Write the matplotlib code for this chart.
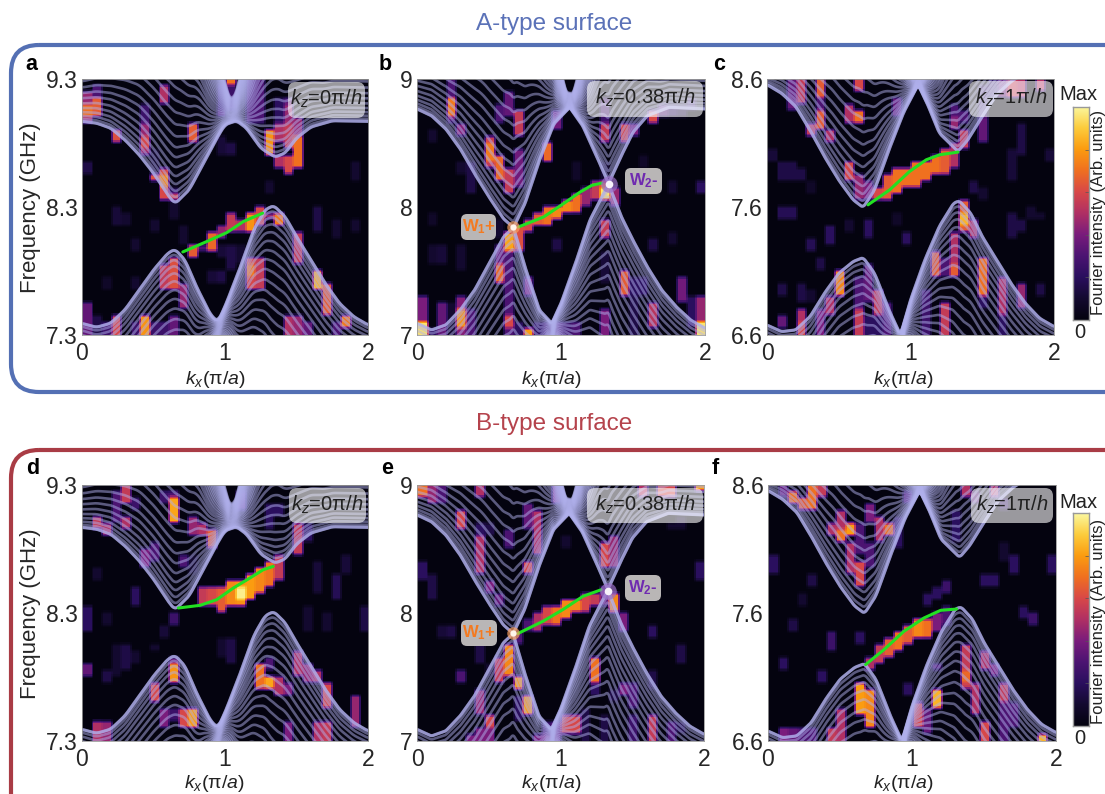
import numpy as np
import matplotlib
matplotlib.use("Agg")
import matplotlib.pyplot as plt
from matplotlib.colors import LinearSegmentedColormap
from matplotlib.patches import FancyBboxPatch

plt.rcParams['font.family'] = ['Liberation Sans', 'DejaVu Sans']
plt.rcParams['mathtext.fontset'] = 'custom'
plt.rcParams['mathtext.rm'] = 'Liberation Sans'
plt.rcParams['mathtext.it'] = 'Liberation Sans:italic'
plt.rcParams['mathtext.bf'] = 'Liberation Sans:bold'

# ---- frequency ranges, tick labels
F0 = {'a': 7.3, 'b': 7.0, 'c': 6.6, 'd': 7.3, 'e': 7.0, 'f': 6.6}
YTICKS = {'a': [7.3, 8.3, 9.3], 'b': [7, 8, 9], 'c': [6.6, 7.6, 8.6],
          'd': [7.3, 8.3, 9.3], 'e': [7, 8, 9], 'f': [6.6, 7.6, 8.6]}
XTICKS = [0, 1, 2]
KZ_TEXT = {'a': '0', 'b': '0.38', 'c': '1', 'd': '0', 'e': '0.38', 'f': '1'}
FAMILY = {'a': 0, 'd': 0, 'b': 1, 'e': 1, 'c': 2, 'f': 2}

# ---- band edges, GHz above the lower axis limit
U_K = [[0, .1, .2, .3, .4, .5, .6, .65, .75, .85, .95, 1.0, 1.08, 1.15, 1.25, 1.35, 1.42, 1.5, 1.6, 1.75, 2],
       [0, .1, .2, .3, .4, .5, .6, .67, .75, .85, .95, 1.06, 1.15, 1.25, 1.33, 1.42, 1.5, 1.6, 1.75, 2],
       [0, .1, .2, .3, .4, .5, .6, .67, .75, .85, .95, 1.053, 1.12, 1.2, 1.33, 1.4, 1.5, 1.6, 1.7, 1.8, 2]]
U_EDGE = [[1.669, 1.656, 1.617, 1.525, 1.408, 1.265, 1.095, 1.025, 1.134, 1.343, 1.552, 1.643, 1.674, 1.617, 1.46, 1.39, 1.421, 1.538, 1.625, 1.674, 1.669],
          [1.766, 1.714, 1.61, 1.455, 1.26, 1.078, .909, .839, 1.026, 1.364, 1.649, 1.779, 1.636, 1.39, 1.182, 1.403, 1.584, 1.714, 1.779, 1.766],
          [1.956, 1.89, 1.786, 1.6, 1.395, 1.21, 1.056, .996, 1.134, 1.447, 1.734, 1.956, 1.8, 1.578, 1.434, 1.525, 1.708, 1.877, 1.98, 2.05, 2.06]]
L_K = [[0, .1, .2, .3, .4, .5, .6, .65, .72, .8, .9, .95, 1.0, 1.1, 1.2, 1.28, 1.34, 1.42, 1.5, 1.6, 1.7, 1.8, 1.9, 2],
       [0, .1, .2, .3, .4, .5, .6, .67, .75, .85, .936, 1.0, 1.1, 1.2, 1.33, 1.42, 1.5, 1.6, 1.7, 1.8, 1.9, 2],
       [0, .1, .2, .3, .4, .5, .6, .67, .75, .85, .93, 1.0, 1.1, 1.2, 1.3, 1.34, 1.42, 1.5, 1.6, 1.7, 1.8, 1.9, 2]]
L_EDGE = [[.091, .06, .091, .196, .352, .508, .639, .67, .587, .378, .156, .104, .222, .508, .821, .978, 1.012, .926, .769, .587, .404, .248, .143, .078],
          [.091, .039, .078, .195, .351, .558, .766, .839, .532, .195, .091, .247, .558, .896, 1.182, .922, .74, .532, .351, .221, .117, .052],
          [.078, .026, .039, .143, .326, .482, .574, .605, .482, .196, 0, .274, .587, .847, 1.03, 1.048, .952, .769, .587, .404, .248, .13, .065]]
# ---- spacing of the nested curves, GHz per step
U_GAP_K = [[0, .2, .4, .65, .8, .9, .95, 1.0, 1.05, 1.1, 1.15, 1.2, 1.25, 1.35, 1.5, 1.7, 2],
           [0, .2, .45, .67, .8, .9, .96, 1.01, 1.06, 1.11, 1.16, 1.21, 1.27, 1.33, 1.5, 1.7, 2],
           [0, .2, .45, .67, .8, .9, .96, 1.01, 1.053, 1.1, 1.15, 1.2, 1.33, 1.6, 2]]
U_GAP = [[.04, .05, .07, .08, .055, .025, .015, .007, .003, .007, .015, .03, .05, .07, .05, .04, .04],
         [.04, .05, .08, .09, .06, .03, .015, .006, .001, .006, .015, .03, .06, .08, .06, .04, .04],
         [.03, .05, .08, .09, .06, .03, .015, .005, .0003, .005, .015, .03, .07, .05, .04]]
L_GAP_K = [[0, .3, .65, .8, .88, .95, 1.02, 1.1, 1.34, 1.6, 2],
           [0, .3, .67, .8, .88, .936, 1.0, 1.1, 1.33, 1.6, 2],
           [0, .3, .67, .8, .88, .93, 1.0, 1.1, 1.34, 1.6, 2]]
L_GAP = [[.05, .06, .07, .05, .02, .003, .012, .035, .08, .07, .05],
         [.05, .07, .09, .05, .02, .002, .012, .035, .08, .07, .05],
         [.05, .07, .08, .05, .02, .0005, .012, .035, .08, .07, .05]]
STEPS = [0, .5, 1.1, 1.8, 2.6, 3.5, 4.5, 5.5, 6.6, 7.8, 9, 10.2, 11.5, 12.8, 14, 15.3,
         16.6, 18, 19.4, 20.8, 22.2, 23.6, 25, 26.4, 27.8, 29.2, 30.6, 32, 33.4, 34.8,
         36.2, 37.6, 39, 40.4, 41.8, 43.2, 44.6]

# ---- green surface arcs (kx, GHz)
ARC_K = {'a': [.705, .872, 1.012, 1.128, 1.263],
         'b': [.705, .879, 1.017, 1.133, 1.214, 1.283],
         'c': [.704, .855, .994, 1.11, 1.203, 1.331],
         'd': [.674, .826, .942, 1.058, 1.174, 1.267, 1.337],
         'e': [.702, .877, 1.016, 1.156, 1.284],
         'f': [.678, .806, .944, 1.083, 1.199, 1.31]}
ARC_F = {'a': [7.949, 8.03, 8.10, 8.186, 8.252],
         'b': [7.844, 7.922, 8.026, 8.117, 8.169, 8.187],
         'c': [7.617, 7.734, 7.878, 7.969, 8.008, 8.029],
         'd': [8.339, 8.36, 8.404, 8.495, 8.573, 8.638, 8.664],
         'e': [7.839, 7.935, 8.026, 8.13, 8.182],
         'f': [7.197, 7.314, 7.457, 7.561, 7.621, 7.631]}
WEYL_K = {'b': [.67, 1.33], 'e': [.67, 1.33]}
WEYL_F = {'b': [7.84, 8.18], 'e': [7.84, 8.17]}

# ---- Fourier intensity: (column, first row, last row, value) on a 30 x 40 grid
HEAT_A = [(0,33,37,.45),(0,34,35,.7),(1,34,36,.65),(1,37,38,.3),(3,30,31,.62),(6,28,32,.45),(6,29,30,.6),(6,33,35,.25),
 (7,24,27,.62),(8,21,25,.6),(8,23,24,.75),(8,36,38,.5),(11,30,32,.65),(9,20,21,.6),(9,22,22,.2),(11,12,13,.65),(12,13,13,.3),
 (13,13,15,.68),(14,15,16,.45),(15,16,18,.55),(16,16,17,.5),(17,16,18,.78),(18,17,19,.6),(19,18,18,.45),(20,17,18,.72),
 (8,7,10,.55),(9,7,11,.62),(10,4,7,.45),(3,0,2,.6),(6,0,2,.78),(0,0,4,.35),(1,0,2,.15),(2,0,1,.25),(5,0,1,.25),(7,0,1,.25),
 (9,0,2,.35),(8,0,1,.25),(17,7,11,.6),(18,7,11,.55),(17,9,10,.72),(22,11,15,.55),(24,7,9,.85),(25,3,7,.65),(27,1,2,.72),
 (21,0,2,.5),(22,0,2,.45),(23,0,1,.35),(26,0,1,.3),(15,39,39,.7),(15,35,38,.25),(14,35,38,.2),(17,33,39,.3),(18,33,39,.3),
 (14,34,34,.3),(21,33,36,.3),(19,28,31,.78),(21,32,35,.45),(20,30,33,.5),(21,29,32,.55),(22,26,30,.7),(21,25,27,.6),(20,26,27,.5),
 (22,31,33,.45),(20,33,36,.2),(0,25,26,.15),(3,17,19,.12),(5,13,14,.1),(4,17,18,.1),(7,25,28,.1),(14,28,30,.12),(15,28,29,.15),
 (19,22,23,.1),(26,15,17,.1),(28,24,26,.1),(28,16,17,.1),(24,16,19,.15),(2,7,8,.08),(5,7,8,.1),(13,8,9,.12),(14,8,9,.15),
 (16,11,13,.1),(14,12,13,.12),(15,10,13,.15),(9,18,20,.1),(10,14,16,.1),(7,16,17,.1)]
HEAT_B = [(3,33,39,.3),(3,34,36,.72),(4,31,32,.42),(7,26,30,.55),(7,27,29,.72),(8,24,27,.68),(8,33,35,.3),(9,22,25,.55),(9,34,37,.35),
 (10,31,34,.55),(10,23,28,.38),(14,32,34,.38),(13,27,29,.68),(9,0,15,.3),(10,13,16,.62),(9,13,15,.82),(11,16,17,.6),(12,17,18,.65),
 (13,17,19,.7),(14,18,19,.75),(15,19,20,.75),(16,19,21,.7),(17,20,22,.45),(18,21,23,.55),(19,21,22,.95),(19,23,23,.65),(8,8,13,.35),
 (8,8,10,.68),(9,1,2,.6),(11,6,8,.4),(11,0,0,.8),(10,0,1,.2),(19,15,17,.55),(20,20,22,.45),(21,6,9,.65),(22,6,8,.2),(0,0,5,.4),
 (0,0,1,.95),(1,0,0,.2),(2,0,4,.35),(4,0,5,.42),(4,1,3,.78),(3,0,4,.1),(5,0,3,.3),(19,30,32,.55),(19,33,36,.25),(21,30,32,.6),
 (22,31,32,.4),(24,33,34,.6),(25,34,35,.3),(26,34,35,.2),(27,34,35,.15),(28,35,36,.2),(19,0,3,.4),(24,1,4,.52),(29,0,5,.45),
 (29,0,1,.95),(27,5,8,.38),(28,1,5,.2),(12,0,1,.2),(13,0,1,.25),(14,0,1,.3),(15,0,1,.25),(16,0,1,.3),(23,6,8,.2),(22,0,5,.15),
 (19,8,12,.12),(1,30,31,.1),(1,11,13,.1),(2,11,13,.12),(4,10,13,.1),(5,22,26,.15),(4,25,26,.1),(19,24,26,.1),(29,22,23,.2),
 (26,22,23,.1),(26,14,15,.1),(24,13,14,.15),(23,26,27,.08),(16,24,26,.08),(14,13,14,.15),(1,17,18,.08),(8,15,17,.1)]
HEAT_C = [(2,35,39,.35),(3,36,39,.55),(5,37,39,.65),(5,35,36,.3),(5,32,34,.65),(4,31,32,.55),(6,30,31,.5),(8,33,35,.5),(9,33,34,.7),
 (9,38,39,.6),(13,34,36,.35),(19,33,35,.3),(19,32,33,.45),(20,29,31,.55),(20,33,34,.3),(22,30,33,.35),(22,34,38,.2),(23,37,39,.2),
 (24,37,39,.35),(25,37,39,.55),(26,37,39,.5),(28,38,39,.5),(8,24,26,.6),(9,21,24,.45),(10,21,23,.4),(11,21,22,.6),(12,21,24,.65),
 (13,22,25,.7),(14,23,25,.7),(15,23,26,.7),(16,24,26,.7),(17,25,27,.7),(18,25,28,.65),(19,26,29,.5),(7,6,9,.75),(6,3,5,.5),(5,0,3,.4),
 (3,0,3,.5),(3,0,1,.6),(1,1,2,.35),(9,4,8,.3),(9,0,3,.55),(10,5,10,.35),(11,3,6,.55),(12,0,4,.3),(16,0,6,.25),(17,9,12,.65),
 (18,0,4,.55),(18,9,11,.3),(19,9,15,.5),(19,9,10,.65),(20,16,20,.65),(20,17,18,.85),(21,15,17,.5),(22,6,11,.7),(22,4,5,.2),(24,3,8,.5),
 (26,4,7,.45),(24,0,2,.2),(10,0,2,.2),(11,0,2,.2),(1,18,19,.18),(2,18,19,.18),(1,24,26,.15),(2,24,26,.15),(3,24,25,.15),(0,27,28,.12),
 (4,22,23,.08),(4,13,14,.18),(6,14,16,.2),(5,10,11,.15),(10,15,17,.2),(14,14,15,.2),(13,17,18,.08),(8,16,17,.1),(21,22,23,.15),
 (22,21,22,.1),(25,15,18,.15),(26,16,17,.15),(27,18,19,.1),(28,18,18,.1),(25,24,28,.12),(26,28,32,.15),(29,27,28,.12),(1,6,7,.15),
 (3,5,7,.15),(4,5,6,.1),(28,6,7,.15)]
HEAT_D = [(4,37,39,.55),(3,36,38,.3),(5,36,37,.25),(9,37,38,.3),(9,34,37,.82),(8,37,38,.25),(1,33,34,.55),(2,32,33,.5),(4,33,34,.5),
 (3,34,36,.3),(11,32,34,.45),(12,32,33,.5),(13,30,32,.65),(6,27,29,.4),(7,28,30,.3),(10,27,28,.3),(19,34,35,.55),(22,29,33,.55),
 (23,31,33,.2),(16,36,38,.35),(20,35,36,.2),(11,26,28,.1),(19,33,36,.2),(12,21,23,.55),(13,21,23,.6),(14,20,23,.65),(15,21,24,.75),
 (16,21,24,.78),(16,22,23,.98),(17,22,25,.8),(18,23,26,.75),(19,24,27,.7),(20,25,28,.55),(9,11,12,.35),(9,9,11,.78),(7,6,8,.6),
 (10,2,4,.6),(11,2,4,.8),(8,2,4,.4),(9,3,4,.25),(1,0,2,.5),(2,0,2,.45),(0,10,11,.35),(18,8,11,.7),(19,8,9,.82),(20,7,9,.5),(21,7,8,.4),
 (22,10,13,.5),(23,9,11,.45),(24,9,10,.5),(25,5,8,.6),(25,0,2,.55),(24,0,2,.5),(28,2,6,.45),(21,0,2,.4),(19,11,12,.3),(1,25,26,.1),
 (0,17,20,.2),(2,18,19,.1),(5,21,23,.2),(9,18,19,.25),(8,16,17,.12),(3,12,14,.1),(4,11,14,.15),(5,12,13,.1),(14,13,15,.1),(15,14,15,.15),
 (15,12,13,.15),(2,9,10,.15),(3,10,11,.1),(7,14,14,.1),(24,23,27,.12),(26,22,25,.18),(27,27,28,.12),(25,17,19,.1),(29,17,20,.15),
 (27,26,27,.12),(23,17,20,.1)]
HEAT_E = [(0,38,39,.7),(1,37,39,.45),(2,37,39,.3),(6,38,39,.5),(14,37,39,.4),(23,38,39,.5),(25,38,39,.6),(26,38,39,.6),(29,39,39,.8),
 (4,33,35,.6),(6,26,31,.5),(7,23,24,.4),(8,21,22,.35),(9,30,32,.3),(11,26,27,.6),(11,33,36,.35),(12,29,35,.5),(19,27,30,.6),(20,27,31,.45),
 (6,32,33,.2),(7,32,33,.15),(12,17,19,.5),(13,18,20,.6),(14,18,20,.7),(15,19,21,.75),(16,20,21,.75),(17,20,22,.6),(18,21,22,.55),
 (19,21,23,.35),(20,20,22,.75),(21,17,19,.4),(10,15,16,.3),(11,17,18,.3),(9,10,14,.75),(8,9,12,.55),(10,8,9,.8),(11,4,6,.8),(6,4,7,.45),
 (7,2,3,.6),(13,1,2,.25),(14,0,2,.35),(15,1,3,.6),(16,1,3,.6),(18,7,8,.2),(18,9,12,.7),(21,7,8,.4),(24,0,3,.55),(5,0,0,.4),(6,0,1,.4),
 (7,0,1,.4),(12,0,0,.4),(13,0,0,.4),(22,5,8,.3),(24,8,10,.15),(20,6,7,.15),(26,0,2,.3),(10,3,6,.2),(19,0,3,.15),(17,0,4,.15),(22,0,3,.25),
 (27,1,2,.15),(0,25,27,.2),(1,22,25,.15),(6,12,14,.15),(4,9,10,.3),(2,16,17,.12),(3,16,17,.15),(7,10,11,.1),(24,16,17,.2),(27,12,14,.15),
 (29,25,27,.2),(27,33,34,.1),(26,33,33,.1),(15,30,31,.1)]
HEAT_F = [(2,37,38,.7),(3,36,37,.65),(4,36,39,.7),(5,38,39,.55),(1,38,39,.35),(7,31,35,.5),(6,32,33,.5),(8,32,33,.8),(7,31,32,.7),(8,26,30,.5),
 (9,24,27,.6),(10,34,36,.4),(11,31,34,.5),(12,32,33,.7),(20,38,39,.5),(23,38,39,.5),(10,27,30,.3),(13,30,34,.2),(9,29,33,.3),(14,37,38,.3),
 (21,37,38,.3),(24,36,37,.2),(19,31,35,.2),(10,11,12,.5),(11,12,14,.55),(12,13,15,.65),(13,14,16,.7),(14,15,17,.65),(15,16,18,.75),(16,16,18,.7),
 (17,17,19,.4),(18,18,20,.3),(9,4,8,.8),(10,2,7,.75),(7,0,4,.5),(6,0,1,.55),(1,0,1,.4),(2,0,1,.35),(3,0,1,.3),(4,0,1,.3),(15,2,5,.6),(17,5,7,.85),
 (16,1,4,.35),(20,8,14,.55),(20,9,10,.68),(21,4,8,.5),(22,11,13,.5),(23,10,11,.4),(24,0,5,.3),(24,6,8,.55),(22,0,2,.6),(25,2,5,.3),(28,0,0,.85),
 (17,11,11,.3),(14,7,8,.2),(0,26,28,.2),(1,11,12,.2),(6,14,16,.25),(9,15,16,.2),(22,24,25,.2),(23,24,25,.2),(25,26,28,.2),(26,19,20,.2),
 (27,18,19,.25),(29,26,28,.2),(18,23,24,.25),(17,22,23,.2),(16,21,22,.2),(5,9,10,.2),(2,17,18,.15),(4,24,25,.15),(3,21,22,.1),(24,28,30,.1)]
HEAT = {'a': HEAT_A, 'b': HEAT_B, 'c': HEAT_C, 'd': HEAT_D, 'e': HEAT_E, 'f': HEAT_F}

CMAP_COLORS = ['#04030f', '#140a30', '#2a0f5e', '#4c1472', '#7a1c7c', '#b03064', '#d84848', '#f07020', '#fb9c10', '#fdcc3c', '#fbf8a0']

W, H = 1105, 794
DPI = 100
# panel rectangles in picture pixels: left, top, right, bottom
RECT = {'a': (82, 79, 368, 335), 'b': (417, 79, 705, 335), 'c': (767, 79, 1054, 335),
        'd': (82, 485, 368, 741), 'e': (417, 485, 704, 741), 'f': (768, 485, 1056, 741)}
KZBOX = {'a': (288, 82, 365, 118), 'b': (587, 81, 703, 117), 'c': (969, 81, 1053, 117),
         'd': (289, 488, 366, 523), 'e': (587, 488, 703, 523), 'f': (971, 488, 1053, 523)}
LETTER = {'a': (31, 64), 'b': (385, 64), 'c': (719, 64), 'd': (33, 469), 'e': (387, 469), 'f': (715, 469)}
KXLABEL = {'a': (215, 379), 'b': (551, 379), 'c': (903, 379), 'd': (214, 784), 'e': (551, 784), 'f': (903, 784)}
CBAR = [(1073, 107, 1089, 320), (1073, 513, 1089, 726)]
CBAR_MAX_Y = [95, 502]
CBAR_LABEL_Y = [212, 621]
EDGE_SMOOTH = [14, 7, 10]
BLUE, RED = '#5470b4', '#a93c45'
LINE = '#b0b0ec'

cmap = LinearSegmentedColormap.from_list('fourier', CMAP_COLORS)
fig = plt.figure(figsize=(W / DPI, H / DPI), dpi=DPI)


def rect_axes(l, t, r, b, **kw):
    return fig.add_axes([l / W, 1 - b / H, (r - l) / W, (b - t) / H], **kw)


def smooth(y, n=7):
    pad = np.pad(y, n, mode='edge')
    return np.convolve(pad, np.ones(2 * n + 1) / (2 * n + 1), mode='same')[n:-n]


def soften(grid, up=5):
    """Resampling softness of the measured map: finer cells, short box blur."""
    g = np.kron(grid, np.ones((up, up)))
    g = np.pad(g, up, mode='edge')
    vert = np.ones(up - 1) / (up - 1)
    horz = np.ones(2) / 2
    g = np.apply_along_axis(lambda s: np.convolve(s, vert, mode='same'), 0, g)
    g = np.apply_along_axis(lambda s: np.convolve(s, horz, mode='same'), 1, g)
    return g[up:-up, up:-up]


kgrid = np.linspace(0, 2, 1201)

for name, (l, t, r, b) in RECT.items():
    ax = rect_axes(l, t, r, b)
    f0 = F0[name]
    grid = np.zeros((40, 30))
    for c, r0, r1, v in HEAT[name]:
        grid[r0:r1 + 1, c] = v
    ax.imshow(soften(grid), origin='lower', extent=(0, 2, f0, f0 + 2), aspect='auto', cmap=cmap,
              vmin=0, vmax=1, interpolation='nearest', zorder=1)
    fam = FAMILY[name]
    n_e = EDGE_SMOOTH[fam]
    ue = smooth(np.interp(kgrid, U_K[fam], U_EDGE[fam]), n_e)
    ug = smooth(np.interp(kgrid, U_GAP_K[fam], U_GAP[fam]), 20)
    le = smooth(np.interp(kgrid, L_K[fam], L_EDGE[fam]), n_e)
    lg = smooth(np.interp(kgrid, L_GAP_K[fam], L_GAP[fam]), 20)
    for s in STEPS:
        ax.plot(kgrid, f0 + ue + s * ug, color=LINE, lw=1.9, alpha=0.5, zorder=2)
        ax.plot(kgrid, f0 + le - s * lg, color=LINE, lw=1.9, alpha=0.5, zorder=2)
    ax.plot(kgrid, f0 + ue, color=LINE, lw=2.3, alpha=0.7, zorder=2)
    ax.plot(kgrid, f0 + le, color=LINE, lw=2.3, alpha=0.7, zorder=2)
    ax.plot(ARC_K[name], ARC_F[name], color='#22e022', lw=2.2, zorder=4, solid_capstyle='round')
    if name in WEYL_K:
        ax.plot(WEYL_K[name][0], WEYL_F[name][0], 'o', ms=9, mfc='#f9a060', mec='none', alpha=.7, zorder=5)
        ax.plot(WEYL_K[name][0], WEYL_F[name][0], 'o', ms=4.5, mfc='#fff4ea', mec='none', zorder=6)
        ax.plot(WEYL_K[name][1], WEYL_F[name][1], 'o', ms=12, mfc='#9a70c8', mec='none', alpha=.7, zorder=5)
        ax.plot(WEYL_K[name][1], WEYL_F[name][1], 'o', ms=5.5, mfc='#f6f0fa', mec='none', zorder=6)
    ax.set_xlim(0, 2)
    ax.set_ylim(f0, f0 + 2)
    ax.set_xticks(XTICKS)
    ax.set_xticklabels([str(x) for x in XTICKS])
    ax.set_yticks(YTICKS[name])
    ax.set_yticklabels([str(y) for y in YTICKS[name]])
    ax.tick_params(axis='x', length=0, labelsize=16.5, pad=5, labelcolor='#262626')
    ax.tick_params(axis='y', length=0, labelsize=16.5, pad=3, labelcolor='#262626')
    for sp in ax.spines.values():
        sp.set_color('#9a9a9a')
        sp.set_linewidth(0.6)

for (l, t, r, b) in CBAR:
    cax = rect_axes(l, t, r, b)
    cax.imshow(np.linspace(0, 1, 256)[:, None], origin='lower', aspect='auto', cmap=cmap, extent=(0, 1, 0, 1))
    cax.set_xticks([])
    cax.set_yticks([0.2, 0.4, 0.6, 0.8])
    cax.set_yticklabels([])
    cax.tick_params(direction='in', length=3, width=.5, color='#555555', right=True, left=False)
    for sp in cax.spines.values():
        sp.set_color('#999999')
        sp.set_linewidth(1)

# overlay in picture pixels
ov = fig.add_axes([0, 0, 1, 1], zorder=10)
ov.set_xlim(0, W)
ov.set_ylim(H, 0)
ov.axis('off')
ov.patch.set_alpha(0)

for (x0, y0, x1, y1, col) in [(11, 45, 1135, 392, BLUE), (11, 450, 1135, 860, RED)]:
    ov.add_patch(FancyBboxPatch((x0 + 28, y0 + 28), x1 - x0 - 56, y1 - y0 - 56,
                                boxstyle='round,pad=28,rounding_size=28', fc='none', ec=col, lw=3))
ov.text(554, 24, 'A-type surface', color='#5b72b8', fontsize=17.5, ha='center', va='center')
ov.text(554, 424, 'B-type surface', color='#b5434c', fontsize=17.5, ha='center', va='center')

for name, (x, y) in LETTER.items():
    ov.text(x, y, name, fontsize=15.5, fontweight='bold', ha='center', va='center', color='black')

for name, (l, t, r, b) in RECT.items():
    x0, y0, x1, y1 = KZBOX[name]
    ov.add_patch(FancyBboxPatch((x0 + 8, y0 + 8), x1 - x0 - 16, y1 - y0 - 16, boxstyle='round,pad=8,rounding_size=8',
                                fc='#ffffff', alpha=0.6, ec='none'))
    ov.text((x0 + x1) / 2, (y0 + y1) / 2 - 1, r'$k_z$=' + KZ_TEXT[name] + r'π/$h$', fontsize=14.5,
            ha='center', va='center', color='#222222')
    ov.text(KXLABEL[name][0], KXLABEL[name][1], r'$k_x$(π/$a$)', fontsize=14, ha='center', va='center', color='#222222')

for y in (208, 614):
    ov.text(31, y, 'Frequency (GHz)', fontsize=16, rotation=90, ha='center', va='center', color='#262626')

for (l, t, r, b), my, ly in zip(CBAR, CBAR_MAX_Y, CBAR_LABEL_Y):
    ov.text(1078, my, 'Max', fontsize=14.5, ha='center', va='center', color='#222222')
    ov.text(1080, b + 12, '0', fontsize=14.5, ha='center', va='center', color='#222222')
    ov.text(1099, ly, 'Fourier intensity (Arb. units)', fontsize=12, rotation=90, ha='center', va='center', color='#222222')

WBOX = [(461, 214, 496, 240, 'W$_{\\mathbf{1}}$+', '#f47a20'), (625, 168, 662, 194, 'W$_{\\mathbf{2}}$-', '#6f2ab0'),
        (461, 620, 497, 646, 'W$_{\\mathbf{1}}$+', '#f47a20'), (625, 575, 661, 601, 'W$_{\\mathbf{2}}$-', '#6f2ab0')]
for x0, y0, x1, y1, s, col in WBOX:
    ov.add_patch(FancyBboxPatch((x0 + 6, y0 + 6), x1 - x0 - 12, y1 - y0 - 12, boxstyle='round,pad=6,rounding_size=6',
                                fc='#b9b6b6', ec='none'))
    ov.text((x0 + x1) / 2, (y0 + y1) / 2, s, fontsize=12, fontweight='bold',
            ha='center', va='center', color=col)

fig.savefig('out.png', dpi=DPI)
